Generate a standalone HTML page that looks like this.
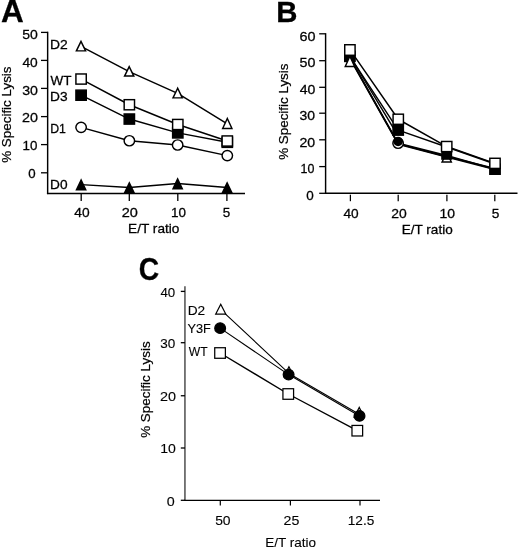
<!DOCTYPE html>
<html><head><meta charset="utf-8"><style>
html,body{margin:0;padding:0;background:#fff;}
svg{display:block;will-change:transform;}
text{font-family:"Liberation Sans",sans-serif;fill:#000;stroke:#000;stroke-width:0.28px;}
text.r{stroke-width:0.22px;}
text.c{stroke-width:0.12px;}
</style></head><body>
<svg width="520" height="549" viewBox="0 0 520 549">
<text transform="translate(0.91,22.20) scale(1.0251,1.0)" font-size="30.72" font-weight="bold">A</text>
<line x1="47.65" y1="31.70" x2="47.65" y2="194.10" stroke="#000" stroke-width="1.45"/>
<line x1="46.95" y1="193.40" x2="245.00" y2="193.40" stroke="#000" stroke-width="1.45"/>
<line x1="41.00" y1="32.40" x2="47.65" y2="32.40" stroke="#000" stroke-width="1.3"/>
<line x1="41.00" y1="60.40" x2="47.65" y2="60.40" stroke="#000" stroke-width="1.3"/>
<line x1="41.00" y1="88.40" x2="47.65" y2="88.40" stroke="#000" stroke-width="1.3"/>
<line x1="41.00" y1="116.60" x2="47.65" y2="116.60" stroke="#000" stroke-width="1.3"/>
<line x1="41.00" y1="144.60" x2="47.65" y2="144.60" stroke="#000" stroke-width="1.3"/>
<line x1="41.00" y1="172.80" x2="47.65" y2="172.80" stroke="#000" stroke-width="1.3"/>
<text transform="translate(22.21,39.00) scale(1.0613,1.0)" font-size="13.2">50</text>
<text transform="translate(22.46,66.60) scale(1.0439,1.0)" font-size="13.2">40</text>
<text transform="translate(22.13,94.60) scale(1.0738,1.0)" font-size="13.2">30</text>
<text transform="translate(21.98,122.40) scale(1.0844,1.0)" font-size="13.2">20</text>
<text transform="translate(22.60,150.00) scale(1.0126,1.0)" font-size="13.2">10</text>
<text transform="translate(28.17,177.80) scale(1.0048,1.0)" font-size="13.2">0</text>
<line x1="81.20" y1="193.40" x2="81.20" y2="200.90" stroke="#000" stroke-width="1.3"/>
<line x1="129.30" y1="193.40" x2="129.30" y2="200.90" stroke="#000" stroke-width="1.3"/>
<line x1="177.80" y1="193.40" x2="177.80" y2="200.90" stroke="#000" stroke-width="1.3"/>
<line x1="226.90" y1="193.40" x2="226.90" y2="200.90" stroke="#000" stroke-width="1.3"/>
<text transform="translate(74.36,216.85) scale(1.0439,1.0)" font-size="13.2">40</text>
<text transform="translate(121.77,216.85) scale(1.0992,1.0)" font-size="13.2">20</text>
<text transform="translate(170.89,216.85) scale(1.0203,1.0)" font-size="13.2">10</text>
<text transform="translate(222.76,216.85) scale(1.0207,1.0)" font-size="13.2">5</text>
<text transform="translate(128.11,232.70) scale(1.0344,1.0)" font-size="13.2">E/T ratio</text>
<text class="r" transform="translate(11.20,162.77) rotate(-90) scale(1.0080,1.0)" font-size="13.3">% Specific Lysis</text>
<text transform="translate(49.99,49.00) scale(1.0520,1.0)" font-size="13.2">D2</text>
<text transform="translate(50.53,85.30) scale(1.0225,1.0)" font-size="13.2">WT</text>
<text transform="translate(50.00,101.45) scale(1.0408,1.0)" font-size="13.2">D3</text>
<text transform="translate(50.21,132.80) scale(0.9329,1.0)" font-size="13.2">D1</text>
<text transform="translate(50.11,188.70) scale(1.0363,1.0)" font-size="13.2">D0</text>
<path d="M81.00,46.43 L129.20,71.67 L177.65,93.38 L227.30,123.80" fill="none" stroke="#000" stroke-width="1.45" stroke-linejoin="round"/>
<path d="M81.10,79.05 L129.35,104.75 L177.80,124.50 L227.30,141.00" fill="none" stroke="#000" stroke-width="1.45" stroke-linejoin="round"/>
<path d="M81.10,95.20 L129.35,119.05 L177.80,132.90 L227.30,142.30" fill="none" stroke="#000" stroke-width="1.45" stroke-linejoin="round"/>
<path d="M81.10,127.35 L129.35,140.75 L177.65,145.00 L227.30,155.60" fill="none" stroke="#000" stroke-width="1.45" stroke-linejoin="round"/>
<path d="M81.10,184.65 L129.35,187.50 L177.65,183.57 L227.15,187.50" fill="none" stroke="#000" stroke-width="1.45" stroke-linejoin="round"/>
<path d="M81.10,179.95 L76.46,189.88 L85.74,189.88Z" fill="#000" stroke="#000" stroke-width="1.45" stroke-linejoin="miter" stroke-miterlimit="10"/>
<path d="M129.35,182.92 L124.72,192.58 L133.98,192.58Z" fill="#000" stroke="#000" stroke-width="1.45" stroke-linejoin="miter" stroke-miterlimit="10"/>
<path d="M177.65,178.90 L173.01,188.78 L182.29,188.78Z" fill="#000" stroke="#000" stroke-width="1.45" stroke-linejoin="miter" stroke-miterlimit="10"/>
<path d="M227.15,182.92 L222.52,192.58 L231.78,192.58Z" fill="#000" stroke="#000" stroke-width="1.45" stroke-linejoin="miter" stroke-miterlimit="10"/>
<ellipse cx="81.10" cy="127.35" rx="5.23" ry="5.12" fill="#fff" stroke="#000" stroke-width="1.45"/>
<ellipse cx="129.35" cy="140.75" rx="5.23" ry="5.12" fill="#fff" stroke="#000" stroke-width="1.45"/>
<ellipse cx="177.65" cy="145.00" rx="5.23" ry="5.12" fill="#fff" stroke="#000" stroke-width="1.45"/>
<ellipse cx="227.30" cy="155.60" rx="5.23" ry="5.12" fill="#fff" stroke="#000" stroke-width="1.45"/>
<rect x="75.92" y="90.12" width="10.35" height="10.15" fill="#000" stroke="#000" stroke-width="1.45"/>
<rect x="124.17" y="113.97" width="10.35" height="10.15" fill="#000" stroke="#000" stroke-width="1.45"/>
<rect x="172.62" y="127.83" width="10.35" height="10.15" fill="#000" stroke="#000" stroke-width="1.45"/>
<rect x="222.12" y="137.22" width="10.35" height="10.15" fill="#000" stroke="#000" stroke-width="1.45"/>
<rect x="75.92" y="73.97" width="10.35" height="10.15" fill="#fff" stroke="#000" stroke-width="1.45"/>
<rect x="124.17" y="99.67" width="10.35" height="10.15" fill="#fff" stroke="#000" stroke-width="1.45"/>
<rect x="172.62" y="119.42" width="10.35" height="10.15" fill="#fff" stroke="#000" stroke-width="1.45"/>
<rect x="222.12" y="135.92" width="10.35" height="10.15" fill="#fff" stroke="#000" stroke-width="1.45"/>
<path d="M81.00,41.31 L76.38,50.88 L85.62,50.88Z" fill="#fff" stroke="#000" stroke-width="1.45" stroke-linejoin="miter" stroke-miterlimit="10"/>
<path d="M129.20,66.60 L124.58,76.08 L133.82,76.08Z" fill="#fff" stroke="#000" stroke-width="1.45" stroke-linejoin="miter" stroke-miterlimit="10"/>
<path d="M177.65,88.22 L173.02,97.88 L182.28,97.88Z" fill="#fff" stroke="#000" stroke-width="1.45" stroke-linejoin="miter" stroke-miterlimit="10"/>
<path d="M227.30,118.47 L222.66,128.47 L231.94,128.47Z" fill="#fff" stroke="#000" stroke-width="1.45" stroke-linejoin="miter" stroke-miterlimit="10"/>
<text transform="translate(276.14,22.20) scale(0.9675,1.0)" font-size="30.33" font-weight="bold">B</text>
<line x1="325.60" y1="33.15" x2="325.60" y2="194.00" stroke="#000" stroke-width="1.45"/>
<line x1="324.90" y1="193.30" x2="517.50" y2="193.30" stroke="#000" stroke-width="1.45"/>
<line x1="319.20" y1="33.80" x2="325.60" y2="33.80" stroke="#000" stroke-width="1.3"/>
<line x1="319.20" y1="60.70" x2="325.60" y2="60.70" stroke="#000" stroke-width="1.3"/>
<line x1="319.20" y1="87.30" x2="325.60" y2="87.30" stroke="#000" stroke-width="1.3"/>
<line x1="319.20" y1="113.20" x2="325.60" y2="113.20" stroke="#000" stroke-width="1.3"/>
<line x1="319.20" y1="139.80" x2="325.60" y2="139.80" stroke="#000" stroke-width="1.3"/>
<line x1="319.20" y1="166.60" x2="325.60" y2="166.60" stroke="#000" stroke-width="1.3"/>
<line x1="319.20" y1="193.30" x2="325.60" y2="193.30" stroke="#000" stroke-width="1.3"/>
<text transform="translate(299.38,41.00) scale(1.0918,1.0)" font-size="13.2">60</text>
<text transform="translate(299.53,67.30) scale(1.0812,1.0)" font-size="13.2">50</text>
<text transform="translate(299.75,94.30) scale(1.0657,1.0)" font-size="13.2">40</text>
<text transform="translate(299.54,120.20) scale(1.0591,1.0)" font-size="13.2">30</text>
<text transform="translate(299.39,146.90) scale(1.0695,1.0)" font-size="13.2">20</text>
<text transform="translate(300.47,173.40) scale(0.9441,1.0)" font-size="13.2">10</text>
<text transform="translate(306.26,200.40) scale(1.0207,1.0)" font-size="13.2">0</text>
<line x1="350.40" y1="194.70" x2="350.40" y2="201.20" stroke="#000" stroke-width="1.25"/>
<line x1="398.20" y1="194.70" x2="398.20" y2="201.20" stroke="#000" stroke-width="1.25"/>
<line x1="446.90" y1="194.70" x2="446.90" y2="201.20" stroke="#000" stroke-width="1.25"/>
<line x1="494.80" y1="194.70" x2="494.80" y2="201.20" stroke="#000" stroke-width="1.25"/>
<text transform="translate(343.46,217.80) scale(1.0367,1.0)" font-size="13.2">40</text>
<text transform="translate(391.20,217.80) scale(1.0547,1.0)" font-size="13.2">20</text>
<text transform="translate(439.55,217.80) scale(1.0583,1.0)" font-size="13.2">10</text>
<text transform="translate(491.85,217.80) scale(1.0367,1.0)" font-size="13.2">5</text>
<text transform="translate(401.71,233.60) scale(1.0281,1.0)" font-size="13.2">E/T ratio</text>
<text class="r" transform="translate(288.20,159.82) rotate(-90) scale(1.0080,1.0)" font-size="13.3">% Specific Lysis</text>
<path d="M349.90,58.60 L398.20,144.40 L446.70,157.00 L495.00,169.50" fill="none" stroke="#000" stroke-width="1.45" stroke-linejoin="round"/>
<path d="M349.90,56.00 L397.50,134.90" fill="none" stroke="#000" stroke-width="1.45" stroke-linejoin="round"/>
<path d="M349.90,58.00 L398.20,143.80 L446.70,156.50 L495.00,168.50" fill="none" stroke="#000" stroke-width="1.45" stroke-linejoin="round"/>
<path d="M349.90,57.50 L398.20,143.25 L446.70,155.50 L495.00,169.20" fill="none" stroke="#000" stroke-width="1.45" stroke-linejoin="round"/>
<path d="M349.90,56.40 L398.20,130.10 L446.70,147.00 L495.00,164.00" fill="none" stroke="#000" stroke-width="1.45" stroke-linejoin="round"/>
<path d="M349.90,49.60 L398.20,119.25 L446.70,146.55 L495.00,163.35" fill="none" stroke="#000" stroke-width="1.45" stroke-linejoin="round"/>
<rect x="344.73" y="51.33" width="10.35" height="10.15" fill="#000" stroke="#000" stroke-width="1.45"/>
<path d="M349.90,56.29 L345.25,66.48 L354.55,66.48Z" fill="#fff" stroke="#000" stroke-width="1.45" stroke-linejoin="miter" stroke-miterlimit="10"/>
<rect x="344.73" y="44.73" width="10.35" height="10.55" fill="#fff" stroke="#000" stroke-width="1.45"/>
<rect x="393.03" y="125.02" width="10.35" height="10.15" fill="#000" stroke="#000" stroke-width="1.45"/>
<ellipse cx="398.10" cy="143.25" rx="5.23" ry="5.12" fill="#fff" stroke="#000" stroke-width="1.45"/>
<circle cx="398.1" cy="141.45" r="4.8" fill="#000"/>
<rect x="393.08" y="114.17" width="10.35" height="10.15" fill="#fff" stroke="#000" stroke-width="1.45"/>
<path d="M446.70,152.41 L442.08,161.97 L451.32,161.97Z" fill="#fff" stroke="#000" stroke-width="1.45" stroke-linejoin="miter" stroke-miterlimit="10"/>
<rect x="441.2" y="149" width="11" height="10.8" fill="#000"/>
<rect x="441.53" y="141.47" width="10.35" height="10.15" fill="#fff" stroke="#000" stroke-width="1.45"/>
<rect x="489.83" y="164.12" width="10.35" height="10.15" fill="#000" stroke="#000" stroke-width="1.45"/>
<rect x="489.83" y="158.27" width="10.35" height="10.15" fill="#fff" stroke="#000" stroke-width="1.45"/>
<text transform="translate(138.77,280.39) scale(0.9135,1.0)" font-size="30.92" font-weight="bold">C</text>
<line x1="184.95" y1="286.30" x2="184.95" y2="500.90" stroke="#333" stroke-width="1.3"/>
<line x1="184.35" y1="500.30" x2="380.00" y2="500.30" stroke="#000" stroke-width="1.3"/>
<line x1="180.80" y1="291.40" x2="184.95" y2="291.40" stroke="#000" stroke-width="1.3"/>
<line x1="180.80" y1="342.70" x2="184.95" y2="342.70" stroke="#000" stroke-width="1.3"/>
<line x1="180.80" y1="395.75" x2="184.95" y2="395.75" stroke="#000" stroke-width="1.3"/>
<line x1="180.80" y1="448.00" x2="184.95" y2="448.00" stroke="#000" stroke-width="1.3"/>
<line x1="180.80" y1="500.30" x2="184.95" y2="500.30" stroke="#000" stroke-width="1.3"/>
<text class="c" transform="translate(160.47,297.30) scale(1.0474,1.0)" font-size="12.7">40</text>
<text class="c" transform="translate(160.26,348.00) scale(1.0626,1.0)" font-size="12.7">30</text>
<text class="c" transform="translate(159.88,400.50) scale(1.1348,1.0)" font-size="12.7">20</text>
<text class="c" transform="translate(160.24,453.30) scale(1.1079,1.0)" font-size="12.7">10</text>
<text class="c" transform="translate(166.83,506.20) scale(1.1272,1.0)" font-size="12.7">0</text>
<line x1="220.30" y1="500.30" x2="220.30" y2="505.40" stroke="#000" stroke-width="1.2"/>
<line x1="290.40" y1="500.30" x2="290.40" y2="505.40" stroke="#000" stroke-width="1.2"/>
<line x1="360.00" y1="500.30" x2="360.00" y2="505.40" stroke="#000" stroke-width="1.2"/>
<text class="c" transform="translate(215.14,524.80) scale(1.0932,1.0)" font-size="12.7">50</text>
<text class="c" transform="translate(283.54,524.80) scale(1.1193,1.0)" font-size="12.7">25</text>
<text class="c" transform="translate(347.73,524.80) scale(1.0757,1.0)" font-size="12.7">12.5</text>
<text class="c" transform="translate(265.17,547.40) scale(1.0654,1.0)" font-size="12.7">E/T ratio</text>
<text class="r" transform="translate(150.00,437.87) rotate(-90) scale(1.0101,1.0)" font-size="13.3">% Specific Lysis</text>
<text class="c" transform="translate(187.70,314.50) scale(1.0797,1.0)" font-size="12.7">D2</text>
<text class="c" transform="translate(187.43,332.60) scale(1.0032,1.0)" font-size="12.7">Y3F</text>
<text class="c" transform="translate(188.74,356.00) scale(0.9572,1.0)" font-size="12.7">WT</text>
<path d="M220.75,309.60 L288.95,373.45 L359.20,414.30" fill="none" stroke="#000" stroke-width="1.1" stroke-linejoin="round"/>
<path d="M220.15,328.15 L288.60,374.60 L359.50,415.90" fill="none" stroke="#000" stroke-width="1.1" stroke-linejoin="round"/>
<path d="M220.05,353.00 L288.25,394.00 L357.30,430.70" fill="none" stroke="#000" stroke-width="1.4" stroke-linejoin="round"/>
<path d="M220.75,304.32 L215.74,314.07 L225.76,314.07Z" fill="#fff" stroke="#000" stroke-width="1.25" stroke-linejoin="miter" stroke-miterlimit="10"/>
<path d="M288.95,366.82 L283.94,376.57 L293.96,376.57Z" fill="#fff" stroke="#000" stroke-width="1.25" stroke-linejoin="miter" stroke-miterlimit="10"/>
<path d="M359.20,407.42 L354.19,417.18 L364.21,417.18Z" fill="#fff" stroke="#000" stroke-width="1.25" stroke-linejoin="miter" stroke-miterlimit="10"/>
<ellipse cx="220.15" cy="328.15" rx="5.38" ry="5.28" fill="#000" stroke="#000" stroke-width="1.25"/>
<ellipse cx="288.60" cy="374.60" rx="5.38" ry="5.28" fill="#000" stroke="#000" stroke-width="1.25"/>
<ellipse cx="359.50" cy="415.90" rx="5.38" ry="5.28" fill="#000" stroke="#000" stroke-width="1.25"/>
<rect x="214.73" y="347.73" width="10.65" height="10.55" fill="#fff" stroke="#000" stroke-width="1.25"/>
<rect x="282.93" y="388.73" width="10.65" height="10.55" fill="#fff" stroke="#000" stroke-width="1.25"/>
<rect x="351.98" y="425.43" width="10.65" height="10.55" fill="#fff" stroke="#000" stroke-width="1.25"/>
</svg>
</body></html>
